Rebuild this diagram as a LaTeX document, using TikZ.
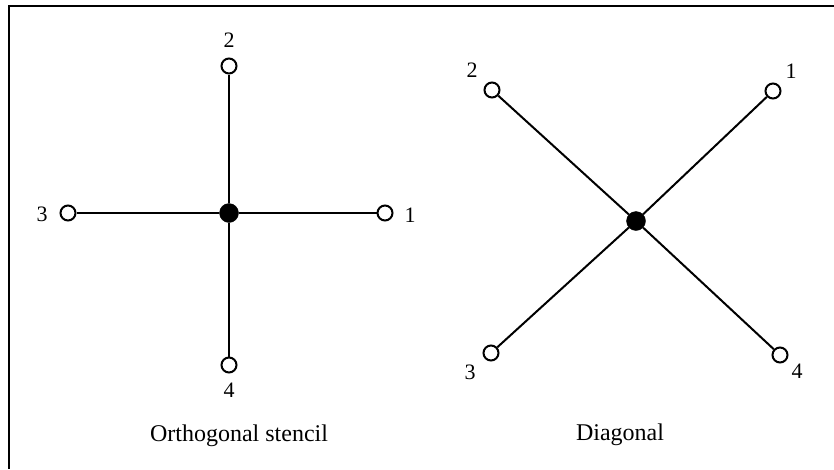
\documentclass[tikz,border=0pt]{standalone}
\usepackage{fontspec}
\setmainfont{Liberation Serif}
\begin{document}
\begin{tikzpicture}[x=1pt,y=-1pt,
  hub/.style={circle,fill=black,draw=black,inner sep=0pt,minimum size=19pt},
  tip/.style={circle,fill=white,draw=black,line width=2pt,inner sep=0pt,minimum size=15pt},
  arm/.style={line width=2pt},
  lbl/.style={font=\fontsize{22}{22}\selectfont,inner sep=0pt},
  caption/.style={font=\fontsize{24}{24}\selectfont,inner sep=0pt}]
\useasboundingbox (0,0) rectangle (834,469);
% frame (top and left edges)
\draw[line width=2.2pt] (834,6) -- (9,6) -- (9,469);

% orthogonal stencil
\node[hub] (c) at (229,213) {};
\node[tip] (o1) at (385,213) {};
\node[tip] (o2) at (229,66) {};
\node[tip] (o3) at (68,213) {};
\node[tip] (o4) at (229,365) {};
\draw[arm] (c) -- (o1) (c) -- (o2) (c) -- (o3) (c) -- (o4);
\node[lbl] (lo1) at (410,215) {1};
\node[lbl] (lo2) at (229,40) {2};
\node[lbl] (lo3) at (42,214) {3};
\node[lbl] (lo4) at (229,390) {4};
\node[caption] (capo) at (239,436) {Orthogonal stencil};

% diagonal stencil
\node[hub] (d) at (636,221) {};
\node[tip] (d1) at (773,91) {};
\node[tip] (d2) at (492,90) {};
\node[tip] (d3) at (491,353) {};
\node[tip] (d4) at (780,355) {};
\draw[arm] (d) -- (d1) (d) -- (d2) (d) -- (d3) (d) -- (d4);
\node[lbl] (ld1) at (791,71) {1};
\node[lbl] (ld2) at (472,70) {2};
\node[lbl] (ld3) at (470,372) {3};
\node[lbl] (ld4) at (797,371) {4};
\node[caption] (capd) at (620,435) {Diagonal};
\end{tikzpicture}
\end{document}
